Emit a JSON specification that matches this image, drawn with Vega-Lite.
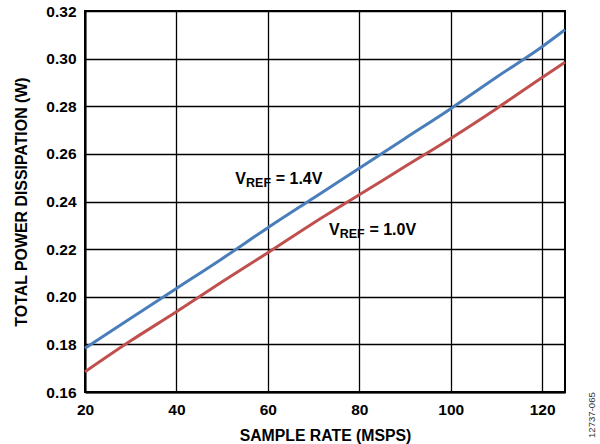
{
  "$schema": "https://vega.github.io/schema/vega-lite/v6.json",
  "width": 480,
  "height": 381,
  "autosize": {"type": "none"},
  "padding": {"left": 85, "top": 11, "right": 35, "bottom": 52},
  "background": "white",
  "config": {
    "font": "Liberation Sans",
    "view": {"stroke": "#000000", "strokeWidth": 2},
    "axis": {
      "labelFont": "Liberation Sans",
      "labelFontWeight": "bold",
      "labelFontSize": 15.5,
      "labelColor": "#000000",
      "titleFont": "Liberation Sans",
      "titleFontWeight": "bold",
      "titleColor": "#000000",
      "ticks": false,
      "domainColor": "#000000",
      "domainWidth": 2,
      "gridColor": "#000000",
      "gridWidth": 1.3,
      "gridOpacity": 1
    }
  },
  "datasets": {
    "curves": [
      {"rate": 20, "power": 0.1784, "vref": "1.4V"},
      {"rate": 30, "power": 0.191, "vref": "1.4V"},
      {"rate": 40, "power": 0.2035, "vref": "1.4V"},
      {"rate": 50, "power": 0.216, "vref": "1.4V"},
      {"rate": 60, "power": 0.229, "vref": "1.4V"},
      {"rate": 70, "power": 0.2415, "vref": "1.4V"},
      {"rate": 80, "power": 0.254, "vref": "1.4V"},
      {"rate": 90, "power": 0.2665, "vref": "1.4V"},
      {"rate": 100, "power": 0.279, "vref": "1.4V"},
      {"rate": 110, "power": 0.2922, "vref": "1.4V"},
      {"rate": 120, "power": 0.305, "vref": "1.4V"},
      {"rate": 125, "power": 0.3121, "vref": "1.4V"},
      {"rate": 20, "power": 0.1685, "vref": "1.0V"},
      {"rate": 30, "power": 0.1815, "vref": "1.0V"},
      {"rate": 40, "power": 0.1937, "vref": "1.0V"},
      {"rate": 50, "power": 0.2063, "vref": "1.0V"},
      {"rate": 60, "power": 0.2185, "vref": "1.0V"},
      {"rate": 70, "power": 0.231, "vref": "1.0V"},
      {"rate": 80, "power": 0.2428, "vref": "1.0V"},
      {"rate": 90, "power": 0.2547, "vref": "1.0V"},
      {"rate": 100, "power": 0.2665, "vref": "1.0V"},
      {"rate": 110, "power": 0.279, "vref": "1.0V"},
      {"rate": 120, "power": 0.2921, "vref": "1.0V"},
      {"rate": 125, "power": 0.2985, "vref": "1.0V"}
    ],
    "labels": [
      {"rate": 52.86, "power": 0.2474, "main": "V", "sub": "REF", "rest": "= 1.4V"},
      {"rate": 73.36, "power": 0.226, "main": "V", "sub": "REF", "rest": "= 1.0V"}
    ],
    "note": [
      {"rate": 130.9, "power": 0.1503, "text": "12737-065"}
    ]
  },
  "layer": [
    {
      "data": {"name": "curves"},
      "mark": {"type": "line", "strokeWidth": 3, "interpolate": "monotone"},
      "encoding": {
        "x": {
          "field": "rate", "type": "quantitative",
          "scale": {"domain": [20, 125], "nice": false, "zero": false},
          "axis": {"values": [20, 40, 60, 80, 100, 120], "title": "SAMPLE RATE (MSPS)", "titleFontSize": 15.8, "labelPadding": 10, "titlePadding": 11, "labelFlush": false}
        },
        "y": {
          "field": "power", "type": "quantitative",
          "scale": {"domain": [0.16, 0.32], "nice": false, "zero": false},
          "axis": {"values": [0.16, 0.18, 0.2, 0.22, 0.24, 0.26, 0.28, 0.3, 0.32], "format": ".2f", "title": "TOTAL POWER DISSIPATION (W)", "titleFontSize": 15.9, "labelPadding": 9, "titlePadding": 16, "labelFlush": false}
        },
        "color": {
          "field": "vref", "type": "nominal",
          "scale": {"domain": ["1.4V", "1.0V"], "range": ["#4a7ebb", "#c0504d"]},
          "legend": null
        }
      }
    },
    {
      "data": {"name": "labels"},
      "mark": {"type": "text", "align": "left", "baseline": "alphabetic", "font": "Liberation Sans", "fontWeight": "bold", "fontSize": 16, "color": "#000000"},
      "encoding": {
        "x": {"field": "rate", "type": "quantitative"},
        "y": {"field": "power", "type": "quantitative"},
        "text": {"field": "main"}
      }
    },
    {
      "data": {"name": "labels"},
      "mark": {"type": "text", "align": "left", "baseline": "alphabetic", "dx": 10.8, "dy": 3.5, "font": "Liberation Sans", "fontWeight": "bold", "fontSize": 12.5, "color": "#000000"},
      "encoding": {
        "x": {"field": "rate", "type": "quantitative"},
        "y": {"field": "power", "type": "quantitative"},
        "text": {"field": "sub"}
      }
    },
    {
      "data": {"name": "labels"},
      "mark": {"type": "text", "align": "left", "baseline": "alphabetic", "dx": 40.5, "font": "Liberation Sans", "fontWeight": "bold", "fontSize": 16, "color": "#000000"},
      "encoding": {
        "x": {"field": "rate", "type": "quantitative"},
        "y": {"field": "power", "type": "quantitative"},
        "text": {"field": "rest"}
      }
    },
    {
      "data": {"name": "note"},
      "mark": {"type": "text", "align": "center", "baseline": "middle", "angle": 270, "font": "Liberation Sans", "fontSize": 9.6, "color": "#333333"},
      "encoding": {
        "x": {"field": "rate", "type": "quantitative"},
        "y": {"field": "power", "type": "quantitative"},
        "text": {"field": "text"}
      }
    }
  ]
}
